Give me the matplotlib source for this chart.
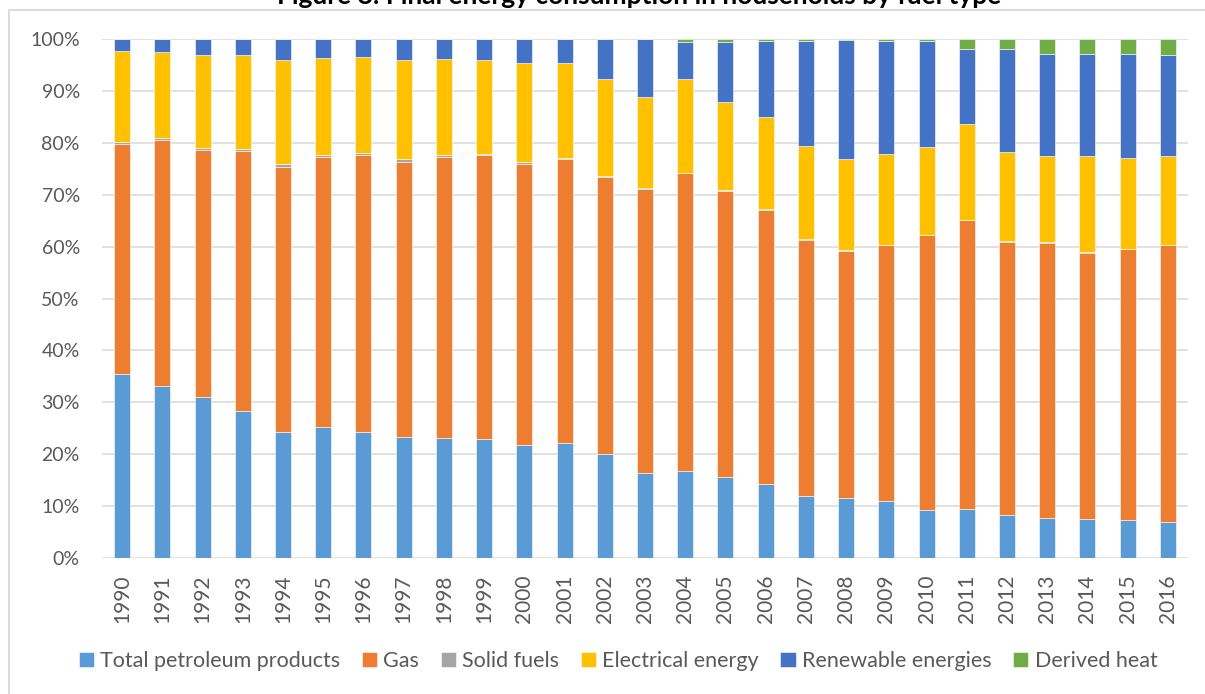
import matplotlib.pyplot as plt
from matplotlib.patches import Rectangle
from matplotlib.ticker import PercentFormatter
import numpy as np

years = [str(y) for y in range(1990, 2017)]

# shares of final energy consumption in households (%)
petroleum = [35.5, 33.2, 31.0, 28.3, 24.3, 25.2, 24.3, 23.3, 23.2, 22.9,
             21.7, 22.1, 20.1, 16.3, 16.8, 15.6, 14.3, 12.0, 11.6, 11.0,
             9.3, 9.4, 8.2, 7.8, 7.5, 7.3, 7.0]
gas = [44.3, 47.3, 47.7, 50.1, 51.1, 52.1, 53.3, 53.0, 54.1, 54.7,
       54.3, 54.7, 53.3, 54.8, 57.3, 55.2, 52.8, 49.3, 47.6, 49.3,
       52.9, 55.7, 52.7, 52.9, 51.3, 52.2, 53.3]
solid = [0.3, 0.4, 0.3, 0.5, 0.5, 0.3, 0.4, 0.6, 0.3, 0.2,
         0.3, 0.2, 0.2, 0.1, 0.1, 0.1, 0.1, 0.1, 0.1, 0.1,
         0.1, 0.1, 0.1, 0.1, 0.1, 0.1, 0.1]
electrical = [17.5, 16.6, 17.9, 18.1, 20.1, 18.7, 18.5, 19.1, 18.5, 18.2,
              19.0, 18.4, 18.7, 17.7, 18.1, 17.0, 17.7, 17.9, 17.5, 17.5,
              16.8, 18.5, 17.2, 16.7, 18.6, 17.4, 17.0]
renewable = [2.4, 2.5, 3.1, 3.0, 4.0, 3.7, 3.5, 4.0, 3.9, 4.0,
             4.7, 4.6, 7.7, 11.1, 7.2, 11.6, 14.7, 20.3, 23.0, 21.7,
             20.5, 14.4, 19.8, 19.7, 19.7, 20.2, 19.6]
heat = [0, 0, 0, 0, 0, 0, 0, 0, 0, 0,
        0, 0, 0, 0, 0.5, 0.5, 0.4, 0.4, 0.2, 0.4,
        0.4, 1.9, 2.0, 2.8, 2.8, 2.8, 3.0]

series = [
    ('Total petroleum products', petroleum, '#5B9BD5'),
    ('Gas', gas, '#ED7D31'),
    ('Solid fuels', solid, '#A5A5A5'),
    ('Electrical energy', electrical, '#FFC000'),
    ('Renewable energies', renewable, '#4472C4'),
    ('Derived heat', heat, '#70AD47'),
]

W, H = 1205, 694
fig = plt.figure(figsize=(W / 100, H / 100), dpi=100)
plt.rcParams['font.family'] = ['Lato', 'DejaVu Sans']

# chart border (top and left visible)
fig.patches.append(Rectangle((9 / W, -0.1), 1.2, 1 - 10 / H + 0.1,
                             transform=fig.transFigure, fill=False,
                             edgecolor='#d9d9d9', linewidth=1.3))

# title sits mostly above the top edge, as in the source screenshot
fig.text(0.53, 1 - 4 / H, 'Figure 8: Final energy consumption in households by fuel type',
         ha='center', va='baseline', fontsize=19, fontweight='bold', color='black')

ax = fig.add_axes([102 / W, 1 - 558 / H, (1188 - 102) / W, (558 - 39) / H])

x = np.arange(len(years))
totals = np.zeros(len(years))
for name, vals, color in series:
    vals = np.array(vals)
    ax.bar(x, vals, 0.4, bottom=totals, color=color, label=name,
           edgecolor='white', linewidth=0.4, zorder=3)
    totals += vals

ax.set_xlim(-0.5, len(years) - 0.5)
ax.set_ylim(0, 100)
ax.set_yticks(range(0, 101, 10))
ax.yaxis.set_major_formatter(PercentFormatter(decimals=0))
ax.set_xticks(x)
ax.set_xticklabels(years, rotation=90)
ax.tick_params(axis='both', length=0, labelsize=14, labelcolor='#595959')
ax.tick_params(axis='x', labelsize=15, pad=12)
ax.tick_params(axis='y', pad=16)
ax.grid(axis='y', color='#d9d9d9', linewidth=1.1, zorder=0)
for s in ax.spines.values():
    s.set_visible(False)

leg = fig.legend(loc='center', bbox_to_anchor=(618 / W, 1 - 661 / H), ncol=6,
                 frameon=False, fontsize=15.5, handlelength=0.7, handleheight=0.7,
                 handletextpad=0.3, columnspacing=1.0)
for t in leg.get_texts():
    t.set_color('#595959')

fig.savefig('out.png', dpi=100)
